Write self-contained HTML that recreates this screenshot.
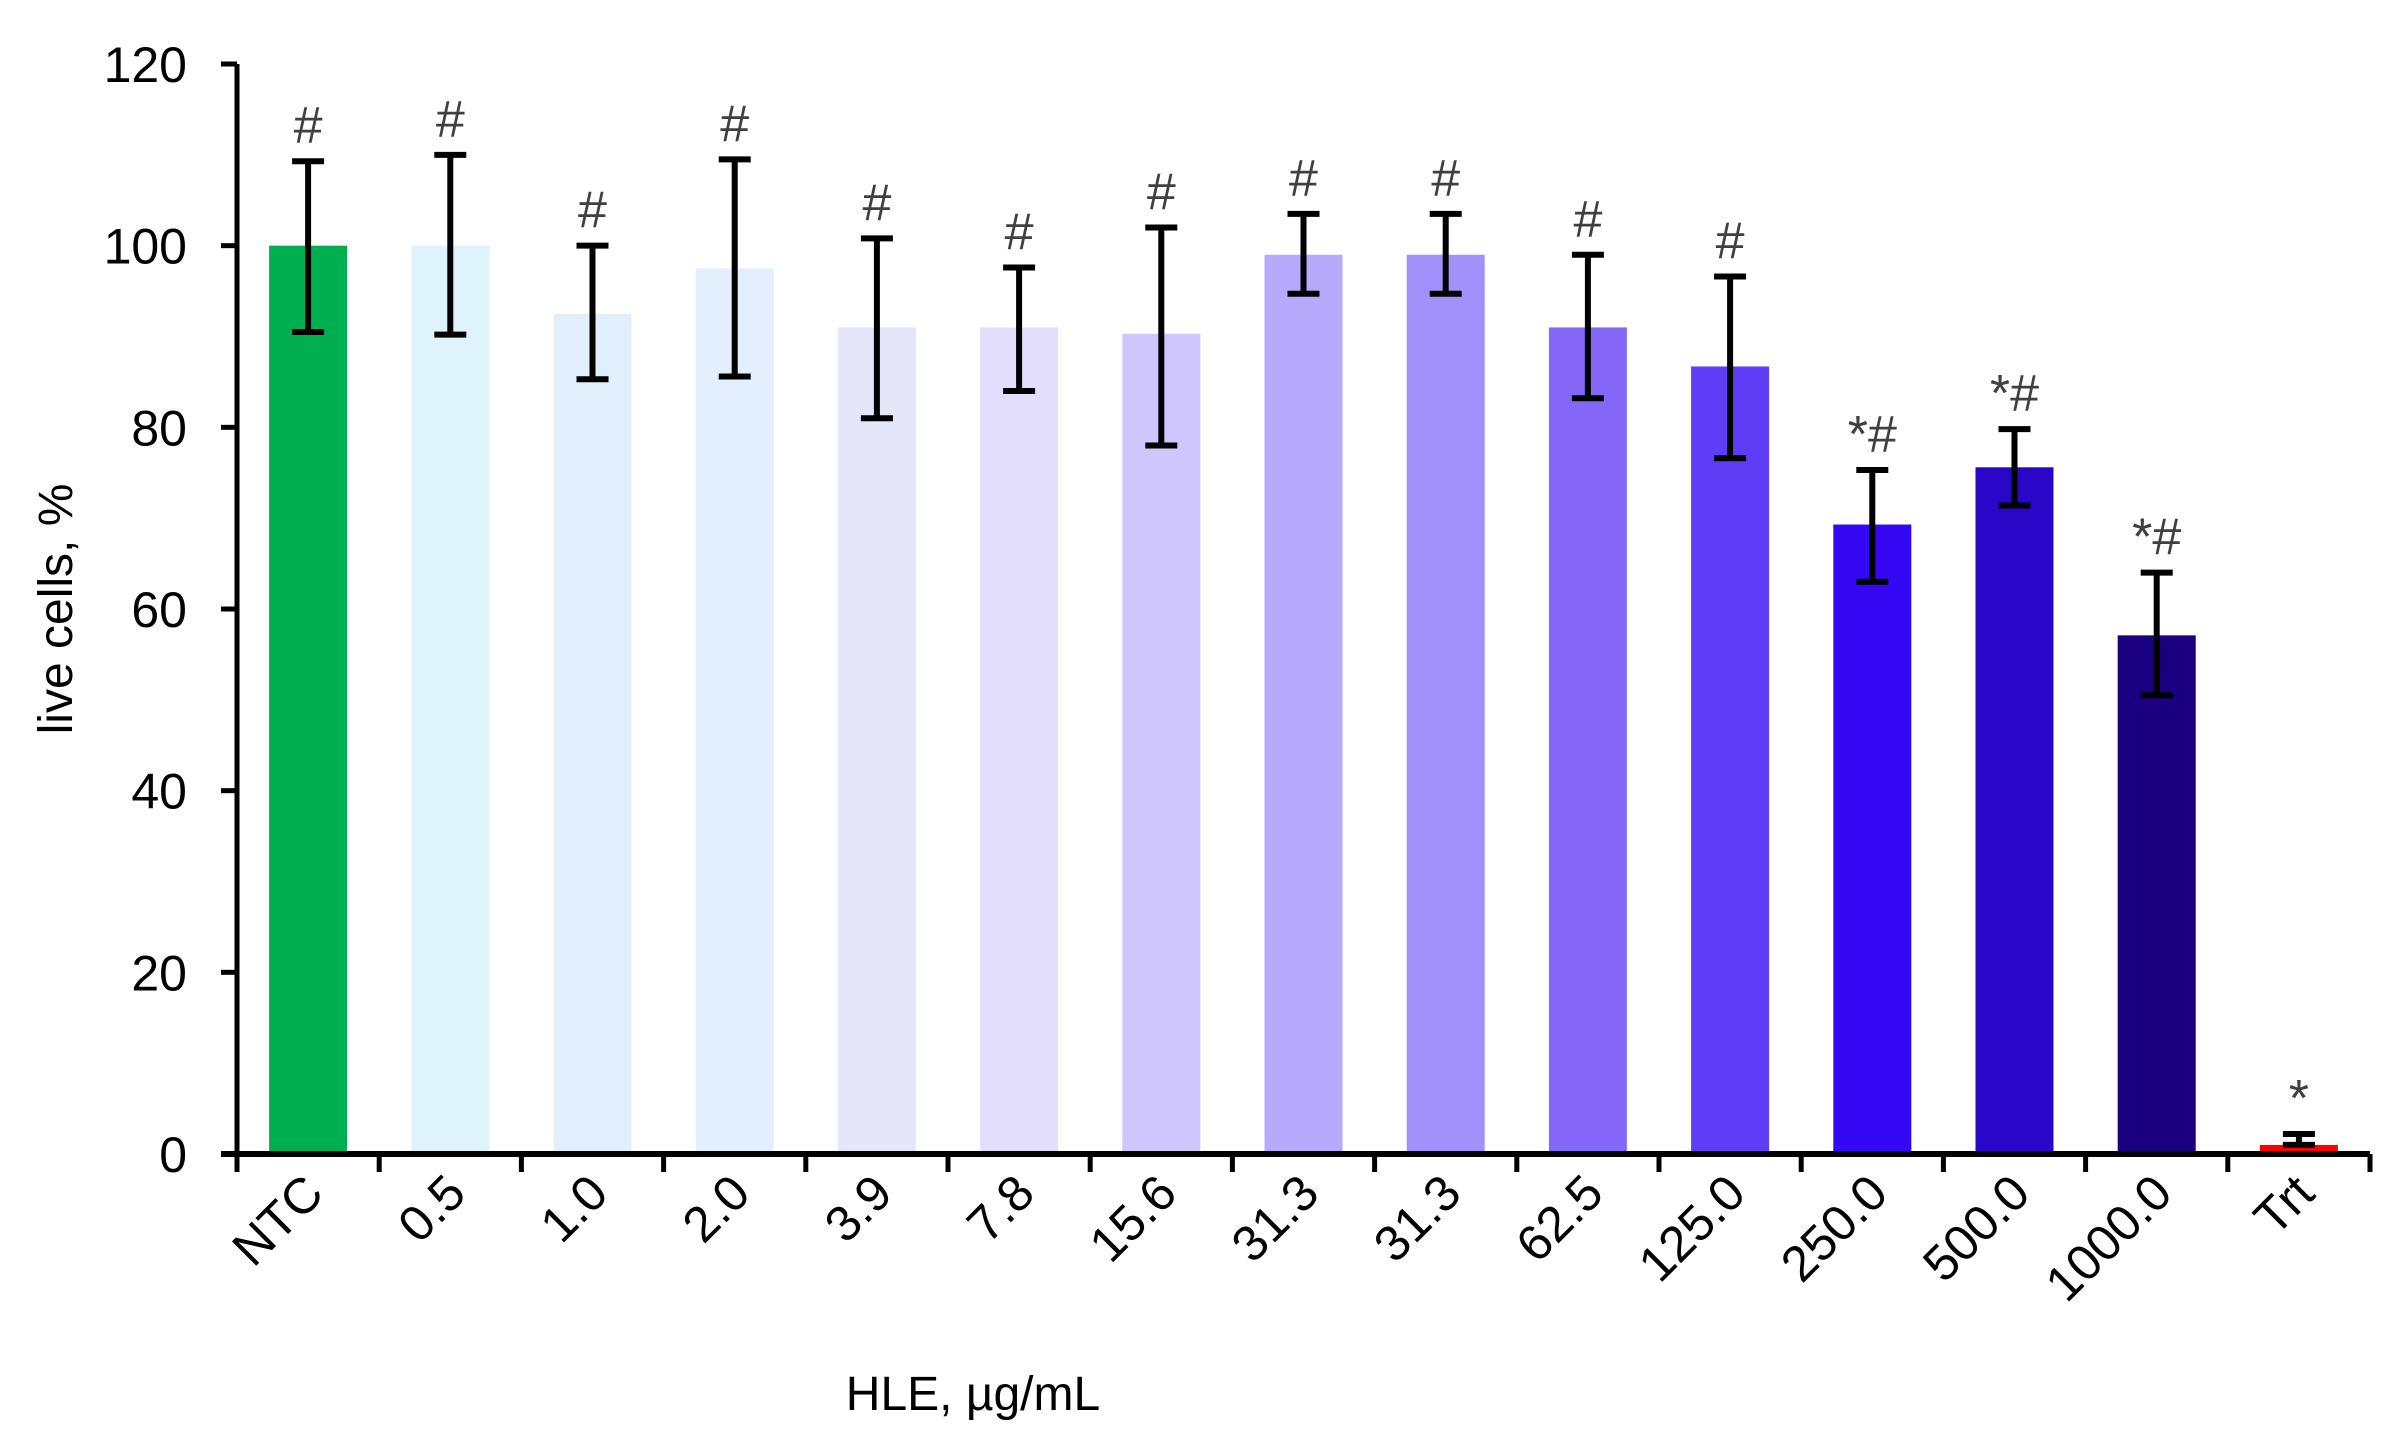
<!DOCTYPE html>
<html><head><meta charset="utf-8"><style>
html,body{margin:0;padding:0;background:#fff;}
svg{display:block;}
text{font-family:"Liberation Sans",sans-serif;}
</style></head><body>
<svg id="chart" width="2400" height="1446" viewBox="0 0 2400 1446"></svg>
<script>
const categories = ["NTC","0.5","1.0","2.0","3.9","7.8","15.6","31.3","31.3","62.5","125.0","250.0","500.0","1000.0","Trt"];
const values = [100,100,92.5,97.5,91,91,90.3,99,99,91,86.7,69.3,75.6,57.1,1];
const errTop = [109.3,110,100,109.5,100.8,97.6,102,103.5,103.5,99,96.6,75.3,79.8,64,2.2];
const errBottom = [90.5,90.2,85.3,85.6,81,84,78,94.7,94.7,83.2,76.6,63,71.4,50.5,1];
const annotations = ["#","#","#","#","#","#","#","#","#","#","#","*#","*#","*#","*"];
const colors = ["#00b050","#dff3fd","#e1effd","#e3effd","#e6e6fb","#e4defd","#cfc6fd","#b7a9fc","#a391fb","#8467f8","#5f3cf6","#3508f5","#2a06c8","#1a0080","#ff0000"];
const yTicks = [0,20,40,60,80,100,120];

const svg = document.getElementById('chart');
const NS = 'http://www.w3.org/2000/svg';
const X0 = 237, X1 = 2370, Y0 = 1154, YTOP = 64, YMAX = 120;
const band = (X1 - X0) / categories.length;
const barW = 78;
function y(v){ return Y0 - (v / YMAX) * (Y0 - YTOP); }
function xc(i){ return X0 + band * (i + 0.5); }
function mk(tag, attrs){ const e = document.createElementNS(NS, tag); for (const k in attrs) e.setAttribute(k, attrs[k]); svg.appendChild(e); return e; }

categories.forEach((c, i) => {
  const r = mk('rect', {x: xc(i) - barW/2, y: y(values[i]), width: barW, height: Y0 - y(values[i]), fill: colors[i]});
  
  
});
categories.forEach((c, i) => {
  const g = document.createElementNS(NS, 'g'); svg.appendChild(g);
  
  
  const cx = xc(i), t = y(errTop[i]), b = y(errBottom[i]);
  const parts = [[cx, t, cx, b], [cx-16, t, cx+16, t], [cx-16, b, cx+16, b]];
  parts.forEach(p => { const l = document.createElementNS(NS, 'line'); l.setAttribute('x1', p[0]); l.setAttribute('y1', p[1]); l.setAttribute('x2', p[2]); l.setAttribute('y2', p[3]); l.setAttribute('stroke', '#000'); l.setAttribute('stroke-width', 6); g.appendChild(l); });
  const a = mk('text', {x: cx, y: t - 18, 'text-anchor': 'middle', 'font-size': 52, fill: '#404040'});
  a.textContent = annotations[i];
  
  
});
const ya = mk('line', {x1: X0, y1: YTOP, x2: X0, y2: Y0 + 2, stroke: '#000', 'stroke-width': 5});


const xa = mk('line', {x1: X0 - 16, y1: Y0, x2: X1, y2: Y0, stroke: '#000', 'stroke-width': 6});


yTicks.forEach(v => {
  const t = mk('line', {x1: X0 - 16, y1: y(v), x2: X0, y2: y(v), stroke: '#000', 'stroke-width': 5});
  
  
  const l = mk('text', {x: X0 - 50, y: y(v) + 18, 'text-anchor': 'end', 'font-size': 50, fill: '#000'});
  l.textContent = v;
  
  
});
for (let i = 0; i <= categories.length; i++) {
  const tx = X0 + band * i;
  const t = mk('line', {x1: tx, y1: Y0, x2: tx, y2: Y0 + 18, stroke: '#000', 'stroke-width': 5});
  
  
}
categories.forEach((c, i) => {
  const cx = xc(i) + 18, cy = Y0 + 42;
  const l = mk('text', {x: cx, y: cy, 'text-anchor': 'end', 'font-size': 50, fill: '#000', transform: `rotate(-45 ${cx} ${cy})`});
  l.textContent = c;
  
  
});
const xt = mk('text', {x: 973, y: 1410, 'text-anchor': 'middle', 'font-size': 48, fill: '#000'});
xt.textContent = 'HLE, µg/mL';


const yt = mk('text', {x: 0, y: 0, 'text-anchor': 'middle', 'font-size': 48, fill: '#000', transform: 'translate(72 609) rotate(-90)'});
yt.textContent = 'live cells, %';


</script>
</body></html>
